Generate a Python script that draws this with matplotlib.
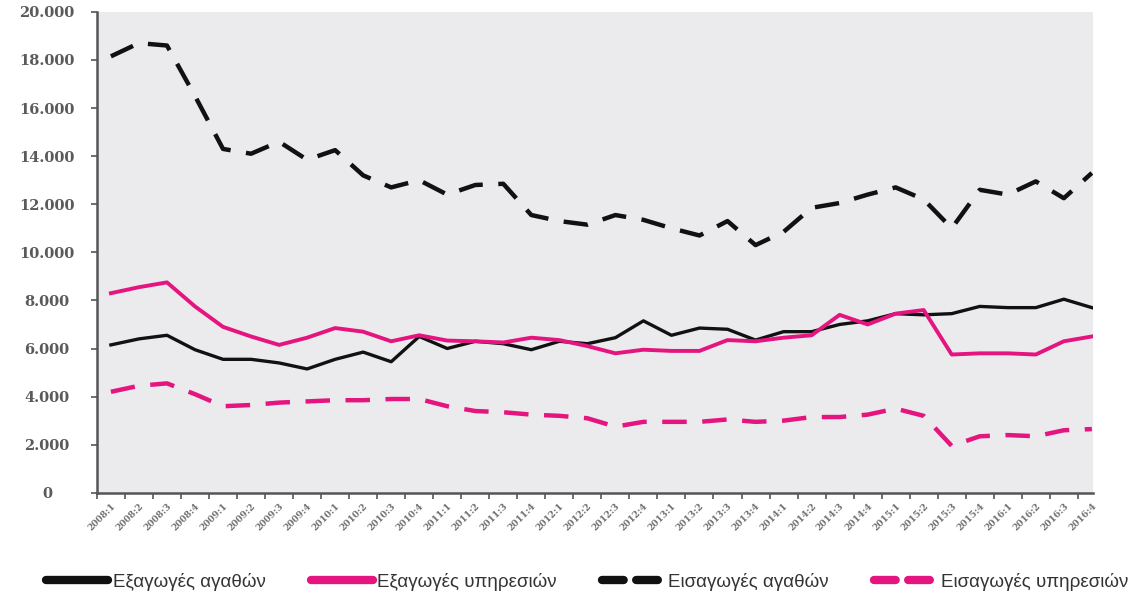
import matplotlib
matplotlib.use("Agg")
import matplotlib.pyplot as plt
from matplotlib.ticker import FuncFormatter, FixedLocator

# quarters 2008:1 .. 2016:4
quarters = [f"{y}:{q}" for y in range(2008, 2017) for q in range(1, 5)]

exports_goods = [6150, 6400, 6550, 5950, 5550, 5550, 5400, 5150, 5550, 5850, 5450, 6500,
                 6000, 6300, 6200, 5950, 6300, 6200, 6450, 7150, 6550, 6850, 6800, 6350,
                 6700, 6700, 7000, 7150, 7450, 7400, 7450, 7750, 7700, 7700, 8050, 7700]
exports_services = [8300, 8550, 8750, 7750, 6900, 6500, 6150, 6450, 6850, 6700, 6300, 6550,
                    6330, 6300, 6250, 6450, 6350, 6100, 5800, 5950, 5900, 5900, 6350, 6300,
                    6450, 6550, 7400, 7000, 7450, 7600, 5750, 5800, 5800, 5750, 6300, 6500]
imports_goods = [18150, 18700, 18600, 16500, 14300, 14100, 14600, 13850, 14250, 13200, 12700, 13000,
                 12400, 12800, 12850, 11550, 11300, 11150, 11550, 11350, 11000, 10700, 11300, 10300,
                 10850, 11850, 12050, 12400, 12700, 12200, 11000, 12600, 12400, 12950, 12250, 13300]
imports_services = [4200, 4450, 4550, 4100, 3600, 3650, 3750, 3800, 3850, 3850, 3900, 3900,
                    3600, 3400, 3350, 3250, 3200, 3100, 2750, 2950, 2950, 2950, 3050, 2950,
                    3000, 3150, 3150, 3250, 3500, 3200, 1950, 2350, 2400, 2350, 2600, 2650]

pink = "#e5157f"
black = "#111111"

fig = plt.figure(figsize=(11.4, 5.93), dpi=100)
ax = fig.add_axes([0.085, 0.169, 0.874, 0.811])
ax.set_facecolor("#ebebed")

x = list(range(len(quarters)))
ax.plot(x, exports_goods, color=black, lw=2.4, label="Εξαγωγές αγαθών")
ax.plot(x, exports_services, color=pink, lw=2.8, label="Εξαγωγές υπηρεσιών")
ax.plot(x, imports_goods, color=black, lw=3.2, dashes=(5.5, 3.5), label="Εισαγωγές αγαθών")
ax.plot(x, imports_services, color=pink, lw=3.2, dashes=(5.5, 3.5), label="Εισαγωγές υπηρεσιών")

ax.set_xlim(-0.5, 35.05)
ax.set_ylim(0, 20000)

# y axis
ax.set_yticks(range(0, 20001, 2000))
ax.yaxis.set_major_formatter(FuncFormatter(lambda v, p: f"{int(v):,}".replace(",", ".")))
for lab in ax.get_yticklabels():
    lab.set_fontfamily("DejaVu Serif")
    lab.set_fontweight("bold")
    lab.set_fontsize(10.5)
    lab.set_color("#5a5a5a")
    lab.set_horizontalalignment("center")
ax.tick_params(axis="y", direction="out", length=4, width=1.2, color="#555555", pad=32)

# x axis: labels at category centres, small ticks on boundaries
ax.set_xticks(x)
ax.set_xticklabels(quarters, rotation=45, ha="right", rotation_mode="anchor",
                   fontsize=6.5, fontweight="bold", color="#707070", fontfamily="DejaVu Serif")
ax.xaxis.set_minor_locator(FixedLocator([i - 0.5 for i in range(len(quarters) + 1)]))
ax.tick_params(axis="x", which="major", length=0, pad=6)
ax.tick_params(axis="x", which="minor", direction="out", length=4, width=1.2, color="#555555")

for side in ["top", "right"]:
    ax.spines[side].set_visible(False)
for side in ["left", "bottom"]:
    ax.spines[side].set_color("#555555")
    ax.spines[side].set_linewidth(1.8)

leg = fig.legend(loc="lower center", bbox_to_anchor=(0.515, -0.025), ncol=4, frameon=False,
                 handlelength=3.3, handletextpad=0.25, columnspacing=2.4,
                 prop={"family": ["Liberation Sans", "DejaVu Sans"], "size": 13.5})
for i, line in enumerate(leg.get_lines()):
    line.set_linewidth(6)
    line.set_solid_capstyle("round")
    if i >= 2:
        line.set_dashes((2.6, 1.5))
        line.set_dash_capstyle("round")
for t in leg.get_texts():
    t.set_color("#333333")

fig.savefig("out.png", dpi=100)
